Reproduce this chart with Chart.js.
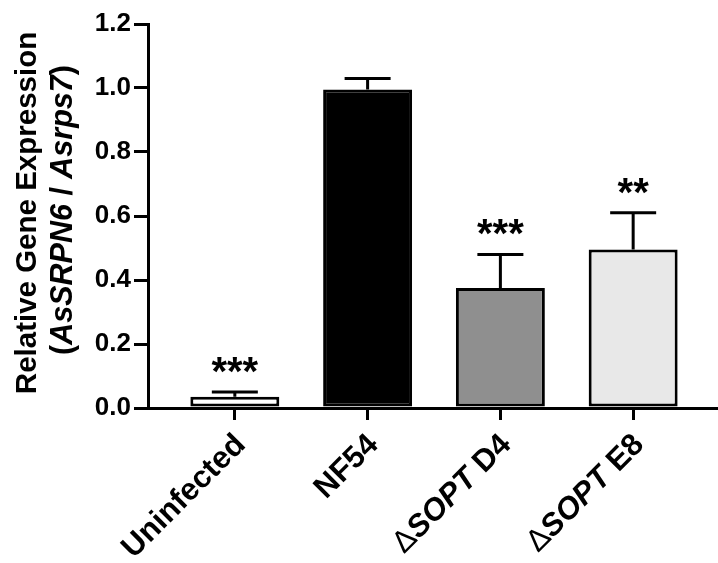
<!DOCTYPE html>
<html><head><meta charset="utf-8">
<script src="https://cdn.jsdelivr.net/npm/chart.js@4.4.1/dist/chart.umd.min.js"></script>
<style>html,body{margin:0;padding:0;background:#fff}</style>
</head><body>
<canvas id="c" width="718" height="563"></canvas>
<script>
// ---- data ----
const categories = ["Uninfected", "NF54", "ΔSOPT D4", "ΔSOPT E8"];
const labelParts = [
  [["Uninfected", "b"]],
  [["NF54", "b"]],
  [["Δ", "n"], ["SOPT", "bi"], [" D4", "b"]],
  [["Δ", "n"], ["SOPT", "bi"], [" E8", "b"]]
];
const means = [0.035, 0.995, 0.375, 0.495];
const sems = [0.015, 0.035, 0.105, 0.115];
const stars = ["***", "", "***", "**"];
const yTicks = [0, 0.2, 0.4, 0.6, 0.8, 1.0, 1.2];
const barColors = ["#ffffff", "#000000", "#8f8f8f", "#e8e8e8"];
const titleLine1 = "Relative Gene Expression";
const titleLine2 = [["(", "b"], ["AsSRPN6", "bi"], [" / ", "b"], ["Asrps7", "bi"], [")", "b"]];

const FONT = "'Liberation Sans', Arial, sans-serif";
function fontFor(style, size) {
  return (style.includes('i') ? 'italic ' : '') + (style.includes('b') ? 'bold ' : '') + size + 'px ' + FONT;
}
function drawParts(ctx, parts, size, align) {
  let total = 0;
  parts.forEach(p => { ctx.font = fontFor(p[1], size); total += ctx.measureText(p[0]).width; });
  let x = align === 'right' ? -total : (align === 'center' ? -total / 2 : 0);
  ctx.textAlign = 'left';
  parts.forEach(p => { ctx.font = fontFor(p[1], size); ctx.fillText(p[0], x, 0); x += ctx.measureText(p[0]).width; });
}

const extras = {
  id: 'extras',
  afterDatasetsDraw(chart) {
    const ctx = chart.ctx, y = chart.scales.y;
    const meta = chart.getDatasetMeta(0);
    ctx.save();
    ctx.strokeStyle = '#000'; ctx.fillStyle = '#000'; ctx.lineWidth = 3;
    meta.data.forEach((bar, i) => {
      const x = bar.x;
      const yTop = y.getPixelForValue(means[i]);
      const yErr = y.getPixelForValue(means[i] + sems[i]);
      ctx.beginPath();
      ctx.moveTo(x, yTop); ctx.lineTo(x, yErr);
      ctx.moveTo(x - 23, yErr); ctx.lineTo(x + 23, yErr);
      ctx.stroke();
      if (stars[i]) {
        ctx.font = 'bold 40px ' + FONT;
        ctx.textAlign = 'center'; ctx.textBaseline = 'alphabetic';
        ctx.fillText(stars[i], x, yErr - 30 + 23);
      }
    });
    ctx.restore();
  },
  afterDraw(chart) {
    const ctx = chart.ctx, xs = chart.scales.x, area = chart.chartArea;
    ctx.save();
    ctx.fillStyle = '#000';
    // x labels
    categories.forEach((c, i) => {
      const px = xs.getPixelForValue(i);
      ctx.save();
      ctx.translate(px + 6, area.bottom + 32);
      ctx.rotate(-Math.PI / 4);
      ctx.textBaseline = 'middle';
      drawParts(ctx, labelParts[i], 31, 'right');
      ctx.restore();
    });
    // y title
    const cy = (area.top + area.bottom) / 2;
    ctx.save();
    ctx.translate(36, cy - 3);
    ctx.rotate(-Math.PI / 2);
    ctx.textBaseline = 'alphabetic';
    drawParts(ctx, [[titleLine1, 'b']], 29.5, 'center');
    ctx.restore();
    ctx.save();
    ctx.translate(72, cy - 6);
    ctx.rotate(-Math.PI / 2);
    ctx.textBaseline = 'alphabetic';
    drawParts(ctx, titleLine2, 30.5, 'center');
    ctx.restore();
    ctx.restore();
  }
};

new Chart(document.getElementById('c'), {
  type: 'bar',
  data: {
    datasets: [{
      data: means.map((v, i) => ({ x: i, y: v })),
      backgroundColor: barColors,
      borderColor: '#000',
      borderWidth: 3,
      borderSkipped: false,
      barPercentage: 0.67,
      categoryPercentage: 1
    }]
  },
  options: {
    responsive: false,
    animation: false,
    layout: { padding: { top: 24, right: 0, left: 0, bottom: 0 } },
    plugins: { legend: { display: false }, tooltip: { enabled: false } },
    scales: {
      x: {
        type: 'linear', min: -0.654, max: 3.639, offset: false,
        afterBuildTicks: s => { s.ticks = categories.map((_, i) => ({ value: i })); },
        afterFit: s => { s.height = 155; },
        ticks: { display: false },
        grid: { offset: false, drawOnChartArea: false, drawTicks: true, tickLength: 12, color: '#000', lineWidth: 3 },
        border: { color: '#000', width: 3 }
      },
      y: {
        min: 0, max: 1.2,
        afterBuildTicks: s => { s.ticks = yTicks.map(v => ({ value: v })); },
        afterFit: s => { s.width = 148; },
        ticks: { color: '#000', font: { family: FONT, size: 26, weight: 'bold' }, padding: 3, callback: v => v.toFixed(1) },
        grid: { offset: false, drawOnChartArea: false, drawTicks: true, tickLength: 14, color: '#000', lineWidth: 3 },
        border: { color: '#000', width: 3 }
      }
    }
  },
  plugins: [extras]
});
</script>
</body></html>
